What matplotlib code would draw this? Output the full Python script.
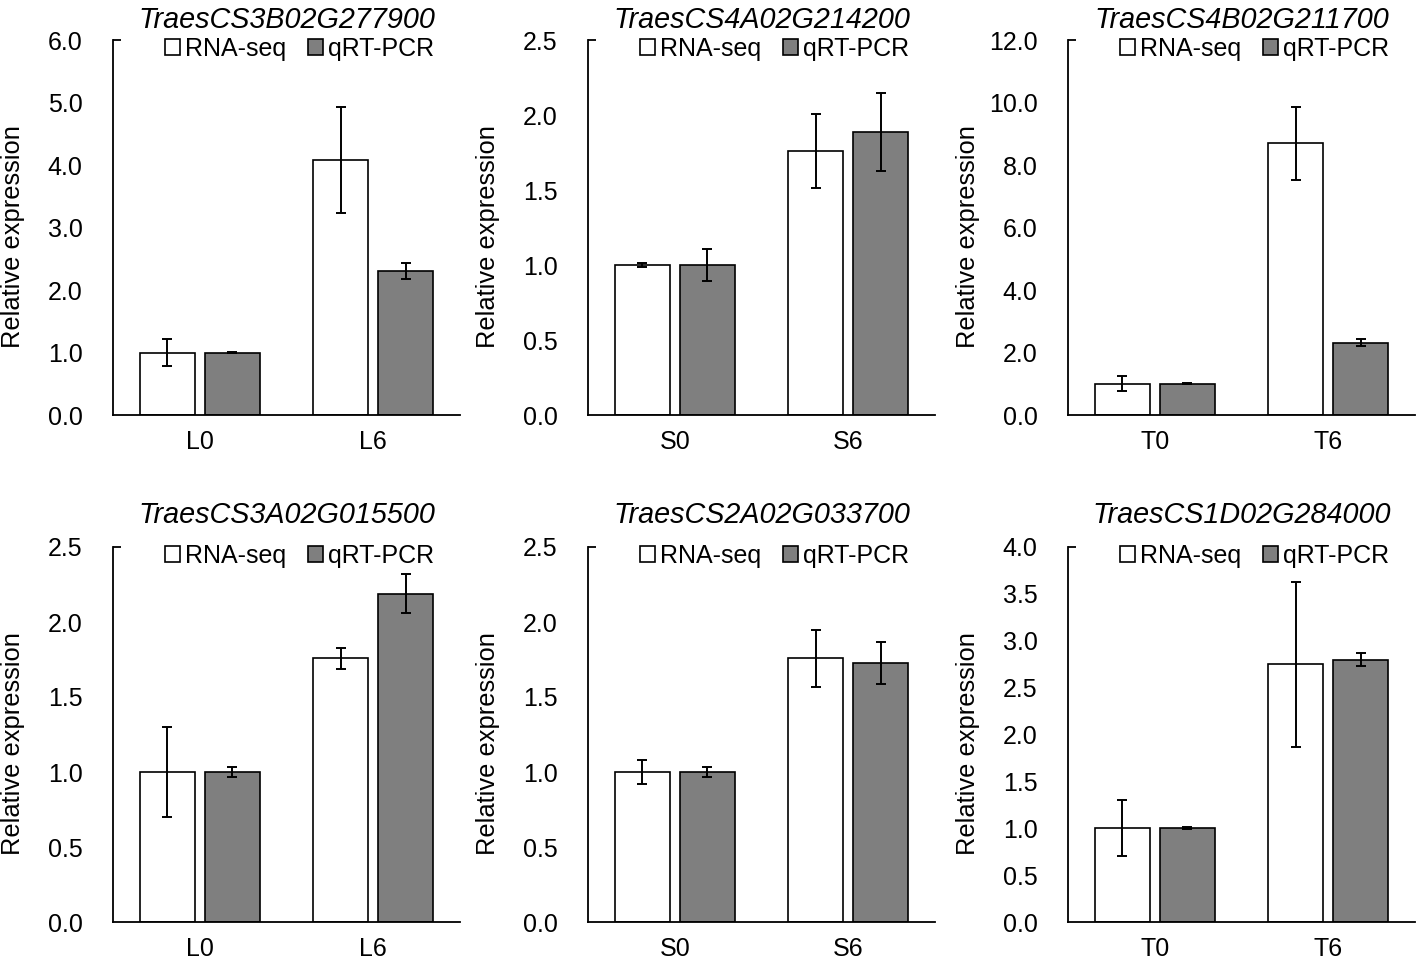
import numpy as np
import matplotlib
matplotlib.use('Agg')
import matplotlib.pyplot as plt

plt.rcParams['font.family'] = ['Liberation Sans', 'DejaVu Sans']

# Data
genes = ['TraesCS3B02G277900', 'TraesCS4A02G214200', 'TraesCS4B02G211700',
         'TraesCS3A02G015500', 'TraesCS2A02G033700', 'TraesCS1D02G284000']
groups = [['L0', 'L6'], ['S0', 'S6'], ['T0', 'T6'],
          ['L0', 'L6'], ['S0', 'S6'], ['T0', 'T6']]

rna_seq = [[1.0, 4.08], [1.0, 1.76], [1.0, 8.69],
           [1.0, 1.76], [1.0, 1.76], [1.0, 2.75]]
rna_err = [[0.22, 0.85], [0.015, 0.245], [0.24, 1.16],
           [0.30, 0.07], [0.078, 0.19], [0.30, 0.88]]
qpcr = [[1.0, 2.31], [1.0, 1.89], [1.0, 2.31],
        [1.0, 2.19], [1.0, 1.73], [1.0, 2.80]]
qpcr_err = [[0.005, 0.13], [0.105, 0.26], [0.01, 0.11],
            [0.035, 0.13], [0.035, 0.14], [0.01, 0.07]]

ymax = [6.0, 2.5, 12.0, 2.5, 2.5, 4.0]
ystep = [1.0, 0.5, 2.0, 0.5, 0.5, 0.5]

W, H = 1418, 963
fig = plt.figure(figsize=(W / 100, H / 100), dpi=100)

lefts = [113, 588, 1068]
tops = [40, 547]
aw, ah = 347, 375

bar_w = 0.317
off = 0.1875

for i, gene in enumerate(genes):
    r, c = divmod(i, 3)
    ax = fig.add_axes([lefts[c] / W, 1 - (tops[r] + ah) / H, aw / W, ah / H])
    x = np.arange(len(groups[i]))
    ax.bar(x - off, rna_seq[i], bar_w, color='white', edgecolor='black',
           linewidth=1.2, label='RNA-seq', zorder=2)
    ax.bar(x + off, qpcr[i], bar_w, color='#7f7f7f', edgecolor='black',
           linewidth=1.2, label='qRT-PCR', zorder=2)
    ax.errorbar(x - off, rna_seq[i], yerr=rna_err[i], fmt='none', ecolor='black',
                elinewidth=1.4, capsize=3.3, capthick=1.4, zorder=3)
    ax.errorbar(x + off, qpcr[i], yerr=qpcr_err[i], fmt='none', ecolor='black',
                elinewidth=1.4, capsize=3.3, capthick=1.4, zorder=3)

    ax.set_xlim(-0.5, 1.5)
    ax.set_ylim(0, ymax[i])
    ax.set_xticks(x)
    ax.set_xticklabels(groups[i])
    yt = np.arange(0, ymax[i] + ystep[i] / 2, ystep[i])
    ax.set_yticks(yt)
    ax.set_yticklabels([f'{v:.1f}' for v in yt])
    # short inward stub at the top of the value axis, as in the original
    ax.yaxis.remove_overlapping_locs = False
    ax.set_yticks([ymax[i]], minor=True)
    ax.tick_params(axis='y', which='minor', direction='in', length=6, width=1.3)
    ax.tick_params(axis='y', length=0, pad=22, labelsize=18)
    ax.tick_params(axis='x', length=0, pad=11, labelsize=18)

    for s in ['top', 'right']:
        ax.spines[s].set_visible(False)
    for s in ['left', 'bottom']:
        ax.spines[s].set_linewidth(1.3)

    ax.set_ylabel('Relative expression', fontsize=18.4)
    ax.yaxis.set_label_coords(-0.255, 0.476)
    ax.set_title(gene, fontsize=20.7, style='italic', pad=9 if r == 0 else 17)

    ax.legend(loc='center right', bbox_to_anchor=(0.925, 0.976), ncol=2,
              frameon=False, fontsize=18, borderpad=0, borderaxespad=0,
              handlelength=0.6, handleheight=0.6, handletextpad=0.2,
              columnspacing=0.85)

fig.savefig('out.png', dpi=100)
